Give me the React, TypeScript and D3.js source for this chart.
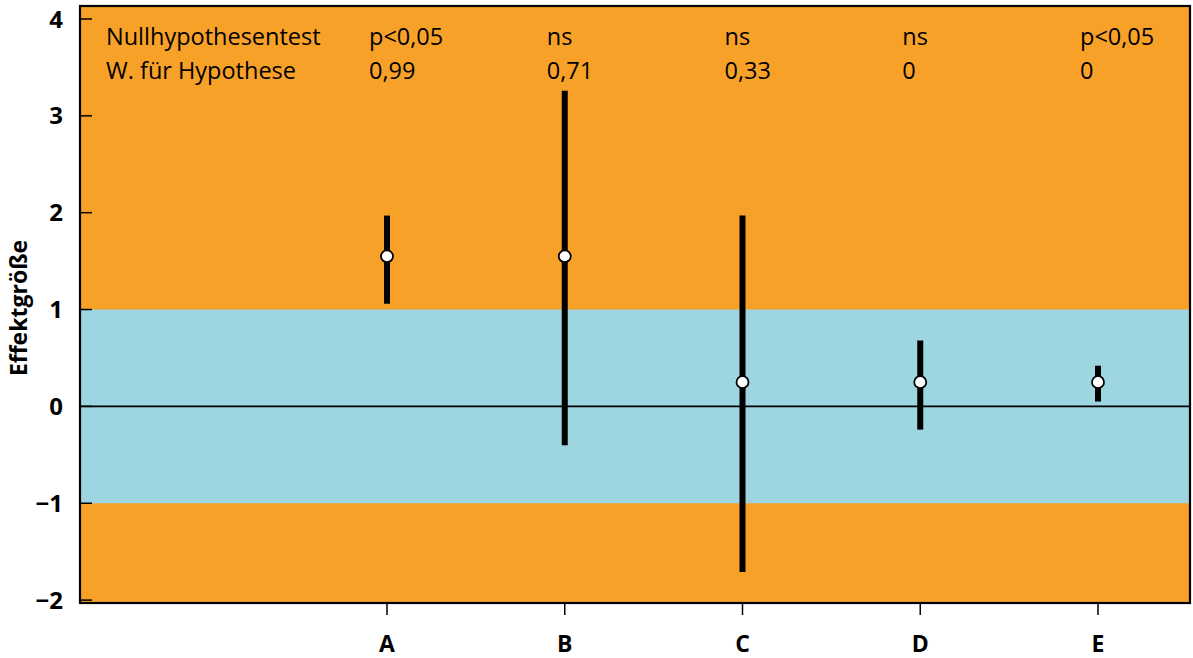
import React from "react";
import * as d3 from "d3";

const categories = ["A", "B", "C", "D", "E"];
const estimates = [1.55, 1.55, 0.25, 0.25, 0.25];
const lowers = [1.06, -0.4, -1.71, -0.24, 0.05];
const uppers = [1.97, 3.26, 1.97, 0.68, 0.42];
const nullTest = ["p<0,05", "ns", "ns", "ns", "p<0,05"];
const probHypothesis = ["0,99", "0,71", "0,33", "0", "0"];
const rowLabels = ["Nullhypothesentest", "W. für Hypothese"];
const yTicks = [-2, -1, 0, 1, 2, 3, 4];
const bandRange = [-1, 1];

const W = 1193;
const H = 658;
const left = 80;
const right = 1190;
const top = 6;
const bottom = 603;

const ORANGE = "#F8A128";
const BLUE = "#9DD5E1";
const FONT = "'Open Sans', 'Noto Sans', sans-serif";

export default function App() {
  const y = d3.scaleLinear().domain([-2.03, 4.134]).range([bottom, top]);
  const x = d3
    .scalePoint<string>()
    .domain(categories)
    .range([387, 1098]);

  const fmt = (v: number) => (v < 0 ? "\u2212" + Math.abs(v) : String(v));

  return (
    <svg
      width={W}
      height={H}
      style={{ position: "absolute", left: 0, top: 0, background: "#fff" }}
    >
      <rect x={left} y={top} width={right - left} height={bottom - top} fill={ORANGE} />
      <rect
        x={left}
        y={y(bandRange[1])}
        width={right - left}
        height={y(bandRange[0]) - y(bandRange[1])}
        fill={BLUE}
      />
      <line x1={left} x2={right} y1={y(0)} y2={y(0)} stroke="#000" strokeWidth={1.6} />

      {/* y ticks */}
      {yTicks.map((t) => (
        <g key={t}>
          <line x1={left} x2={left + 12} y1={y(t)} y2={y(t)} stroke="#000" strokeWidth={1.5} />
          <text
            x={63}
            y={y(t)}
            dy="0.36em"
            textAnchor="end"
            fontFamily={FONT}
            fontWeight="bold"
            fontSize={24}
          >
            {fmt(t)}
          </text>
        </g>
      ))}

      {/* x ticks */}
      {categories.map((c) => (
        <g key={c}>
          <line x1={x(c)} x2={x(c)} y1={bottom} y2={bottom + 12} stroke="#000" strokeWidth={1.5} />
          <text
            x={x(c)}
            y={652}
            textAnchor="middle"
            fontFamily={FONT}
            fontWeight="bold"
            fontSize={23}
          >
            {c}
          </text>
        </g>
      ))}

      {/* error bars and points */}
      {categories.map((c, i) => (
        <g key={"e" + c}>
          <line
            x1={x(c)}
            x2={x(c)}
            y1={y(lowers[i])}
            y2={y(uppers[i])}
            stroke="#000"
            strokeWidth={6}
          />
          <circle cx={x(c)} cy={y(estimates[i])} r={6} fill="#fff" stroke="#000" strokeWidth={1.8} />
        </g>
      ))}

      {/* table text */}
      <text x={106} y={45} fontFamily={FONT} fontSize={23.5}>
        {rowLabels[0]}
      </text>
      <text x={106} y={79} fontFamily={FONT} fontSize={23.5}>
        {rowLabels[1]}
      </text>
      {categories.map((c, i) => (
        <g key={"t" + c}>
          <text x={(x(c) as number) - 18} y={45} fontFamily={FONT} fontSize={23.5}>
            {nullTest[i]}
          </text>
          <text x={(x(c) as number) - 18} y={79} fontFamily={FONT} fontSize={23.5}>
            {probHypothesis[i]}
          </text>
        </g>
      ))}

      {/* frame */}
      <rect
        x={left}
        y={top}
        width={right - left}
        height={bottom - top}
        fill="none"
        stroke="#000"
        strokeWidth={2.2}
      />

      <text
        transform={`translate(27, 308) rotate(-90)`}
        textAnchor="middle"
        fontFamily={FONT}
        fontWeight="bold"
        fontSize={23}
      >
        Effektgröße
      </text>
    </svg>
  );
}
